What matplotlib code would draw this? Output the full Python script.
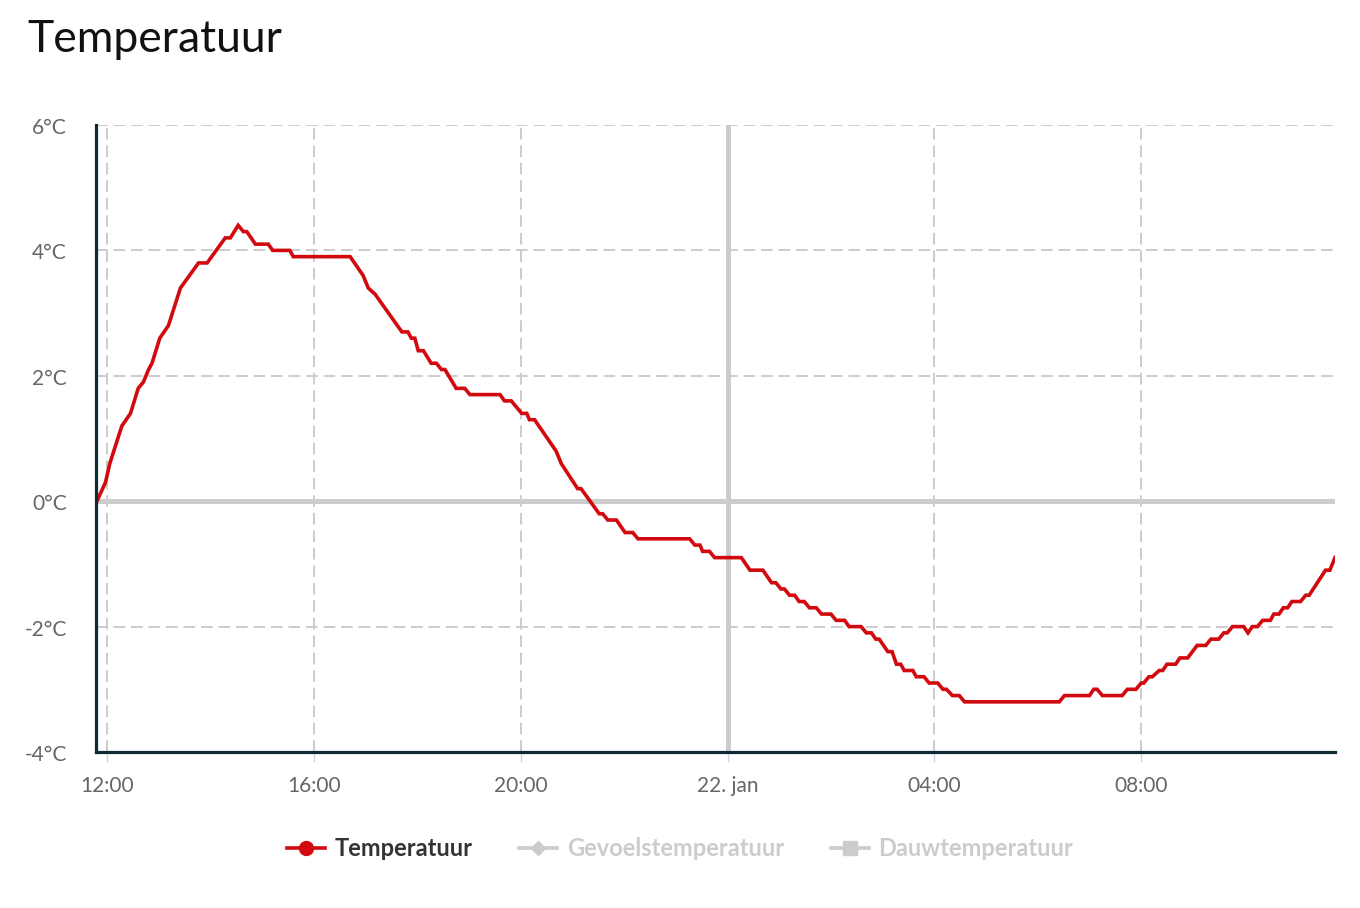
import pandas as pd
import matplotlib
matplotlib.use("Agg")
import matplotlib.pyplot as plt
import matplotlib.transforms as mtransforms
from matplotlib.lines import Line2D

plt.rcParams['font.family'] = ['Lato', 'DejaVu Sans']

# Temperature readings (HH:MM, starting 21 jan)
times = [
    "11:48", "11:58", "12:03", "12:17", "12:27", "12:36", "12:42", "12:48", "12:52", "13:01",
    "13:11", "13:25", "13:46", "13:56", "14:17", "14:23", "14:32", "14:38", "14:42", "14:52",
    "15:07", "15:12", "15:32", "15:36", "16:42", "16:57", "17:03", "17:11", "17:42", "17:49",
    "17:53", "17:57", "18:01", "18:07", "18:16", "18:22", "18:28", "18:32", "18:45", "18:55",
    "19:01", "19:36", "19:41", "19:49", "20:01", "20:07", "20:10", "20:16", "20:41", "20:47",
    "21:06", "21:10", "21:31", "21:35", "21:41", "21:51", "22:01", "22:10", "22:16", "23:16",
    "23:22", "23:28", "23:31", "23:39", "23:45", "00:16", "00:26", "00:41", "00:51", "00:56",
    "01:02", "01:06", "01:12", "01:18", "01:23", "01:29", "01:35", "01:43", "01:49", "02:00",
    "02:06", "02:16", "02:21", "02:35", "02:41", "02:47", "02:52", "02:56", "03:06", "03:11",
    "03:16", "03:21", "03:25", "03:35", "03:39", "03:48", "03:54", "04:04", "04:10", "04:14",
    "04:21", "04:29", "04:35", "06:25", "06:31", "07:00", "07:05", "07:09", "07:15", "07:38",
    "07:44", "07:54", "08:00", "08:03", "08:09", "08:13", "08:21", "08:25", "08:30", "08:40",
    "08:45", "08:54", "09:05", "09:15", "09:21", "09:30", "09:36", "09:40", "09:46", "09:59",
    "10:04", "10:09", "10:15", "10:21", "10:30", "10:34", "10:40", "10:45", "10:50", "10:55",
    "11:05", "11:11", "11:15", "11:34", "11:39", "11:45",
]
temps = [
    0.0, 0.3, 0.6, 1.2, 1.4, 1.8, 1.9, 2.1, 2.2, 2.6,
    2.8, 3.4, 3.8, 3.8, 4.2, 4.2, 4.4, 4.3, 4.3, 4.1,
    4.1, 4.0, 4.0, 3.9, 3.9, 3.6, 3.4, 3.3, 2.7, 2.7,
    2.6, 2.6, 2.4, 2.4, 2.2, 2.2, 2.1, 2.1, 1.8, 1.8,
    1.7, 1.7, 1.6, 1.6, 1.4, 1.4, 1.3, 1.3, 0.8, 0.6,
    0.2, 0.2, -0.2, -0.2, -0.3, -0.3, -0.5, -0.5, -0.6, -0.6,
    -0.7, -0.7, -0.8, -0.8, -0.9, -0.9, -1.1, -1.1, -1.3, -1.3,
    -1.4, -1.4, -1.5, -1.5, -1.6, -1.6, -1.7, -1.7, -1.8, -1.8,
    -1.9, -1.9, -2.0, -2.0, -2.1, -2.1, -2.2, -2.2, -2.4, -2.4,
    -2.6, -2.6, -2.7, -2.7, -2.8, -2.8, -2.9, -2.9, -3.0, -3.0,
    -3.1, -3.1, -3.2, -3.2, -3.1, -3.1, -3.0, -3.0, -3.1, -3.1,
    -3.0, -3.0, -2.9, -2.9, -2.8, -2.8, -2.7, -2.7, -2.6, -2.6,
    -2.5, -2.5, -2.3, -2.3, -2.2, -2.2, -2.1, -2.1, -2.0, -2.0,
    -2.1, -2.0, -2.0, -1.9, -1.9, -1.8, -1.8, -1.7, -1.7, -1.6,
    -1.6, -1.5, -1.5, -1.1, -1.1, -0.9,
]

y_ticks = [-4, -2, 0, 2, 4, 6]
x_tick_times = ["2024-01-21 12:00", "2024-01-21 16:00", "2024-01-21 20:00",
                "2024-01-22 00:00", "2024-01-22 04:00", "2024-01-22 08:00"]
x_tick_labels = ["12:00", "16:00", "20:00", "22. jan", "04:00", "08:00"]

# turn HH:MM into timestamps, day rolls over after midnight
stamps = []
day = 21
prev = None
for t in times:
    if prev is not None and t < prev:
        day += 1
    stamps.append(pd.Timestamp(f"2024-01-{day} {t}"))
    prev = t

red = '#d20a0f'
grid_c = '#cccccc'
axis_c = '#0e2a33'

fig = plt.figure(figsize=(13.6, 9.08), dpi=100)
ax = fig.add_axes([96 / 1360, 1 - 752 / 908, (1335 - 96) / 1360, (752 - 125) / 908])

ax.plot(stamps, temps, color=red, lw=2.6, zorder=5, solid_joinstyle='miter')

ax.set_xlim(pd.Timestamp("2024-01-21 11:47"), stamps[-1])
ax.set_ylim(-4, 6)

xt = pd.to_datetime(x_tick_times)
ax.set_xticks(xt)
ax.set_xticklabels(x_tick_labels)
ax.set_yticks(y_ticks)
ax.set_yticklabels([f"{v}°C" for v in y_ticks])

# dashed grid
for v in y_ticks:
    ax.axhline(v, color=grid_c, lw=1.4, ls=(0, (6, 3)), zorder=1)
for v in xt:
    ax.axvline(v, color=grid_c, lw=1.4, ls=(0, (6, 3)), zorder=1)
# thick zero / midnight lines
ax.axhline(0, color=grid_c, lw=3.6, zorder=2)
ax.axvline(pd.Timestamp("2024-01-22 00:00"), color=grid_c, lw=3.6, zorder=2)

for s in ['top', 'right']:
    ax.spines[s].set_visible(False)
for s in ['left', 'bottom']:
    ax.spines[s].set_color(axis_c)
    ax.spines[s].set_linewidth(2.3)
    ax.spines[s].set_zorder(6)

ax.tick_params(axis='x', colors='#ccd6eb', length=7, width=1, pad=10,
               labelcolor='#666666', labelsize=15)
ax.tick_params(axis='y', length=0, pad=21, labelcolor='#666666', labelsize=15)
shift = mtransforms.ScaledTranslation(0, -3 / 100, fig.dpi_scale_trans)
for lbl in ax.get_yticklabels():
    lbl.set_verticalalignment('center')
    lbl.set_transform(lbl.get_transform() + shift)

fig.text(27 / 1360, 1 - 52 / 908, "Temperatuur", fontsize=32, color='#111111',
         va='baseline', ha='left')

handles = [
    Line2D([], [], color=red, lw=2.6, marker='o', markersize=10),
    Line2D([], [], color=grid_c, lw=2.6, marker='D', markersize=7.5),
    Line2D([], [], color=grid_c, lw=2.6, marker='s', markersize=9.5),
]
leg = fig.legend(handles, ["Temperatuur", "Gevoelstemperatuur", "Dauwtemperatuur"],
                 loc='center', bbox_to_anchor=(0.5, 1 - 849 / 908), ncol=3,
                 frameon=False, handlelength=1.6, handletextpad=0.4,
                 columnspacing=2.0, prop={'size': 17, 'weight': 'bold'})
text_colors = ['#333333', grid_c, grid_c]
for txt, c in zip(leg.get_texts(), text_colors):
    txt.set_color(c)

fig.savefig("out.png", dpi=100)
